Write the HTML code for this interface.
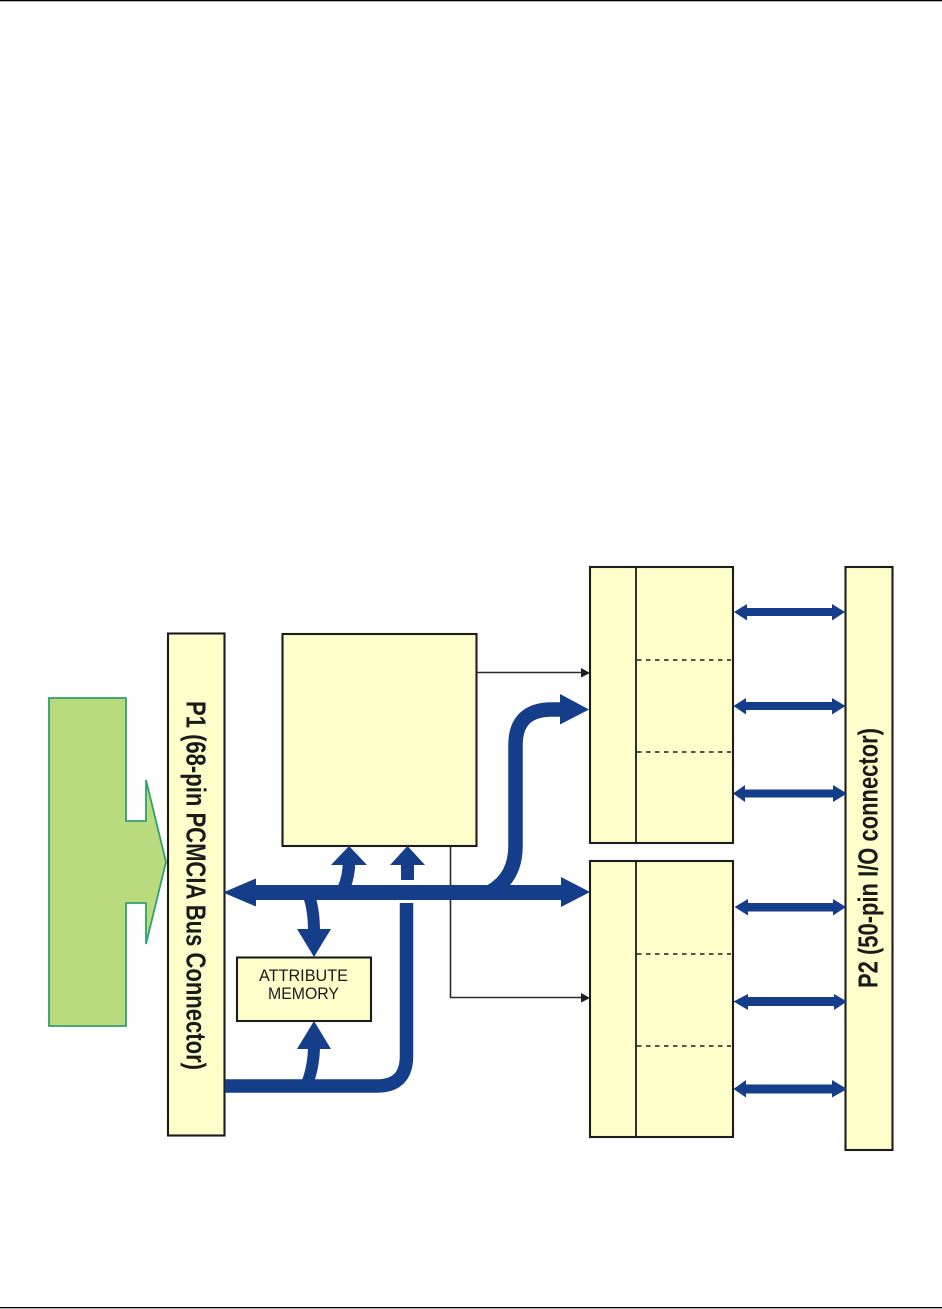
<!DOCTYPE html>
<html>
<head>
<meta charset="utf-8">
<style>
html,body{margin:0;padding:0;background:#fff;width:942px;height:1309px;overflow:hidden}
svg{display:block}
text{font-family:"Liberation Sans",sans-serif;fill:#1a1a1a}
</style>
</head>
<body>
<svg width="942" height="1309" viewBox="0 0 942 1309" xmlns="http://www.w3.org/2000/svg">
<rect x="0" y="0" width="942" height="1.3" fill="#000"/>
<rect x="0" y="1307" width="942" height="1.3" fill="#000"/>

<!-- green arrow -->
<path d="M49 698H126V821H146V780L166 862L146 944V903H126V1026H49Z" fill="#b9db7d" stroke="#2fa36b" stroke-width="1.8"/>

<!-- boxes -->
<g fill="#ffffcc" stroke="#1c1c1c" stroke-width="2.100">
<rect x="168" y="633.500" width="56.500" height="502"/>
<rect x="282.500" y="634" width="194" height="212"/>
<rect x="237" y="957.500" width="134" height="63.500"/>
<rect x="590" y="567" width="143" height="276"/>
<rect x="590" y="861" width="143" height="276"/>
<rect x="845.500" y="567" width="47" height="583"/>
</g>
<g stroke="#1c1c1c" stroke-width="1.800" fill="none">
<path d="M636 567V843M636 861V1137"/>
<g stroke-dasharray="4.500 4.500" stroke-width="1.500">
<path d="M637 660H731M637 752H731M637 954H731M637 1046H731"/>
</g>
</g>

<!-- thin connectors -->
<g stroke="#2a2a2a" stroke-width="1.600" fill="none">
<path d="M477 672.500H583"/>
<path d="M450.500 846V997.500H583"/>
</g>
<g fill="#1c1c1c">
<path d="M581 668L590 673L581 677.500Z"/>
<path d="M581 993L590 998L581 1002.500Z"/>
</g>

<!-- blue buses -->
<g fill="none" stroke="#153e8a">
<path d="M250 892.500H565" stroke-width="15"/>
<path d="M225 1086H377Q406.500 1086 406.500 1056V903" stroke-width="13.500"/>
<path d="M407.500 862V880" stroke-width="13"/>
<path d="M349 862Q349 877 343 890" stroke-width="12.500"/>
<path d="M309 896Q314 910 314 932" stroke-width="12"/>
<path d="M314 1045Q314 1066 307 1084" stroke-width="12"/>
<path d="M490 892Q515.500 878 515.500 846V745Q515.500 709.500 552 709.500H564" stroke-width="14.500"/>
</g>
<g fill="#153e8a">
<path d="M223 892.500L256 878.500V906.500Z"/>
<path d="M590 892L561 877V907Z"/>
<path d="M349 846L367 865H331Z"/>
<path d="M407.500 846L425 865H390Z"/>
<path d="M314 957L331 929H297Z"/>
<path d="M314 1021L331 1049H297Z"/>
<path d="M589 709.500L560 694V724.500Z"/>
</g>

<!-- double arrows -->
<g fill="#153e8a">
<path d="M734 612L747 604V608H832V604L845 612L832 620.500V616H747V620.500Z"/>
<path d="M733.500 706L746 698V702H832V698L845.500 706L832 714.500V710H746V714.500Z"/>
<path d="M733 793.500L745 785V789.500H833V785L847 793.500L833 802V797.500H745V802Z"/>
<path d="M734.500 907L748 899V903H833V899L846 907L833 915.500V911.500H748V915.500Z"/>
<path d="M733.500 1001.500L748 994V997H834V994L847 1001.500L834 1010V1006H748V1010Z"/>
<path d="M733.500 1089L746 1080V1084.500H832V1080L847 1089L832 1097.500V1093.500H746V1097.500Z"/>
</g>

<!-- labels -->
<text transform="translate(186.500 701) rotate(90)" font-size="28" font-weight="700" textLength="369" lengthAdjust="spacingAndGlyphs">P1 (68-pin PCMCIA Bus Connector)</text>
<text transform="translate(877.500 988) rotate(-90)" font-size="28" font-weight="700" textLength="260" lengthAdjust="spacingAndGlyphs">P2 (50-pin I/O connector)</text>
<text x="259" y="981" font-size="16.500" textLength="89" lengthAdjust="spacingAndGlyphs">ATTRIBUTE</text>
<text x="268" y="999" font-size="16.500" textLength="71" lengthAdjust="spacingAndGlyphs">MEMORY</text>
</svg>
</body>
</html>
